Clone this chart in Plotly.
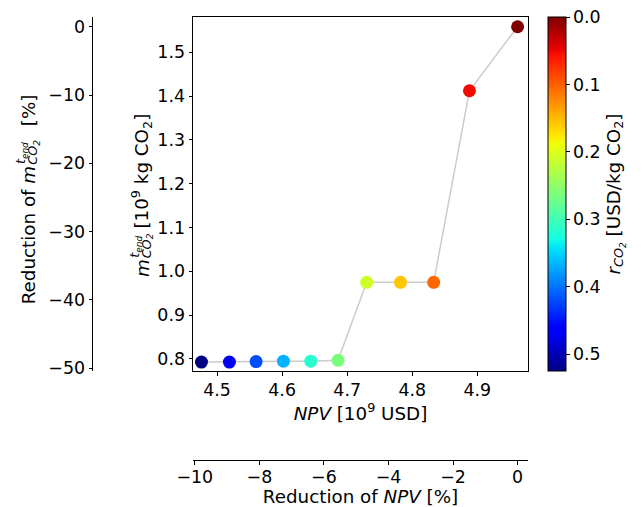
import plotly.graph_objects as go

# Pareto points: net present value vs. final CO2 mass, coloured by CO2 price
npv = [4.476, 4.519, 4.560, 4.602, 4.644, 4.686, 4.730, 4.782, 4.833, 4.888, 4.962]
m_co2 = [0.793, 0.793, 0.794, 0.795, 0.795, 0.797, 0.975, 0.975, 0.975, 1.412, 1.558]
r_co2 = [0.525, 0.4725, 0.42, 0.3675, 0.315, 0.2625, 0.21, 0.1575, 0.105, 0.0525, 0.0]

npv_ticks = [4.5, 4.6, 4.7, 4.8, 4.9]
m_ticks = [0.8, 0.9, 1.0, 1.1, 1.2, 1.3, 1.4, 1.5]
npv_red_ticks = [-10, -8, -6, -4, -2, 0]
m_red_ticks = [0, -10, -20, -30, -40, -50]
r_ticks = [0.0, 0.1, 0.2, 0.3, 0.4, 0.5]

npv_range = [4.463, 4.978]
m_range = [0.7726, 1.5803]

W, H = 644, 507
FONT = "DejaVu Sans"
FS_TICK = 17.4
FS_LABEL = 18.3
FS_SCRIPT = FS_LABEL * 0.7
FS_SCRIPT2 = FS_SCRIPT * 0.7

# relative reductions w.r.t. the unconstrained optimum
npv_ref = max(npv)
m_ref = max(m_co2)
npv_pct = [(v / npv_ref - 1) * 100 for v in npv]
m_pct = [(v / m_ref - 1) * 100 for v in m_co2]
npv_pct_range = [(v / npv_ref - 1) * 100 for v in npv_range]
m_pct_range = [(v / m_ref - 1) * 100 for v in m_range]


def jet(t):
    """matplotlib 'jet' colormap."""
    def interp(pts, x):
        for (x0, y0), (x1, y1) in zip(pts[:-1], pts[1:]):
            if x0 <= x <= x1:
                return y0 + (y1 - y0) * (x - x0) / (x1 - x0) if x1 > x0 else y1
        return pts[-1][1]
    red = [(0, 0), (0.35, 0), (0.66, 1), (0.89, 1), (1, 0.5)]
    green = [(0, 0), (0.125, 0), (0.375, 1), (0.64, 1), (0.91, 0), (1, 0)]
    blue = [(0, 0.5), (0.11, 1), (0.34, 1), (0.65, 0), (1, 0)]
    return "rgb(%d,%d,%d)" % tuple(round(255 * interp(c, t)) for c in (red, green, blue))


n_stops = 64
jet_scale = [[i / n_stops, jet(i / n_stops)] for i in range(n_stops + 1)]

# colour axis runs downward: price 0 at top (dark red), max price at bottom (dark blue)
color_vals = [-r for r in r_co2]

fig = go.Figure()
fig.add_trace(go.Scatter(
    x=npv, y=m_co2, mode="lines",
    line=dict(color="#cccccc", width=1.5),
    hoverinfo="skip", showlegend=False,
))
fig.add_trace(go.Scatter(
    x=npv, y=m_co2, mode="markers",
    marker=dict(
        size=13, color=color_vals, colorscale=jet_scale,
        cmin=-max(r_co2), cmax=0, line=dict(width=0),
        colorbar=dict(
            x=548 / W, xanchor="left", xpad=0,
            y=1 - 17 / H, yanchor="top", ypad=0,
            len=(371 - 17) / H, lenmode="fraction",
            thickness=18, thicknessmode="pixels",
            outlinecolor="black", outlinewidth=1,
            tickvals=[-v for v in r_ticks],
            ticktext=["%.1f" % v for v in r_ticks],
            ticks="outside", ticklen=3.5, tickcolor="black",
            tickfont=dict(family=FONT, size=FS_TICK, color="black"),
            title=dict(
                text="<i>r<sub>CO<sub>2</sub></sub></i> [USD/kg CO<sub>2</sub>]",
                side="right",
                font=dict(family=FONT, size=FS_LABEL, color="black"),
            ),
        ),
    ),
    showlegend=False,
))
# invisible carrier for the reduction axes
fig.add_trace(go.Scatter(
    x=npv_pct, y=m_pct, xaxis="x2", yaxis="y2", mode="markers",
    marker=dict(opacity=0), hoverinfo="skip", showlegend=False,
))

axis_common = dict(
    showgrid=False, zeroline=False, showline=True, linecolor="black", linewidth=1,
    ticks="outside", ticklen=3.5, tickcolor="black", automargin=False,
    tickfont=dict(family=FONT, size=FS_TICK, color="black"),
)

fig.update_layout(
    template="none",
    width=W, height=H, autosize=False,
    margin=dict(l=0, r=0, t=0, b=0, pad=0),
    paper_bgcolor="white", plot_bgcolor="white",
    font=dict(family=FONT, size=FS_TICK, color="black"),
    xaxis=dict(
        domain=[193 / W, 528 / W], range=npv_range, mirror=True,
        tickvals=npv_ticks, tickformat=".1f",
        title=dict(text="<i>NPV</i> [10<sup>9</sup> USD]", standoff=4,
                   font=dict(family=FONT, size=FS_LABEL)),
        **axis_common,
    ),
    yaxis=dict(
        domain=[1 - 371 / H, 1 - 17 / H], range=m_range, mirror=True,
        tickvals=m_ticks, tickformat=".1f",
        **axis_common,
    ),
    xaxis2=dict(
        overlaying="x", anchor="free", position=1 - 460 / H, side="bottom",
        range=npv_pct_range, tickvals=npv_red_ticks, ticklabelstandoff=-2,
        title=dict(text="Reduction of <i>NPV</i> [%]", standoff=1,
                   font=dict(family=FONT, size=FS_LABEL)),
        **axis_common,
    ),
    yaxis2=dict(
        overlaying="y", anchor="free", position=92 / W, side="left",
        range=m_pct_range, tickvals=m_red_ticks,
        **axis_common,
    ),
)

# DejaVu Sans advance widths (em) for the glyphs used in the rotated titles
GLYPH_EM = {
    "R": 0.695, "e": 0.615, "d": 0.635, "u": 0.634, "c": 0.550, "t": 0.392,
    "i": 0.278, "o": 0.612, "n": 0.634, " ": 0.318, "f": 0.352, "m": 0.974,
    "[": 0.390, "]": 0.390, "%": 0.950, "0": 0.636, "1": 0.636, "2": 0.636,
    "9": 0.636, "k": 0.579, "g": 0.635, "C": 0.698, "O": 0.787,
}


def run_len(runs):
    return sum(GLYPH_EM[ch] * size for s, size in runs for ch in s)


def rot_text(text, runs, x_px, y_bottom_px, size):
    """Vertical (bottom-to-top) text piece starting at y_bottom_px."""
    yc = y_bottom_px - run_len(runs) / 2
    fig.add_annotation(
        text=text, textangle=-90, showarrow=False,
        xref="paper", yref="paper", x=x_px / W, y=1 - yc / H,
        xanchor="center", yanchor="middle", borderpad=0, borderwidth=0,
        font=dict(family=FONT, size=size, color="black"),
    )


def rot_label(lead, tail, tail_runs, x_px, y_start, y_tail):
    """Rotated label: lead text + m with stacked t_end / CO2 scripts + tail."""
    lead_runs = [(lead + "m", FS_LABEL)]
    rot_text(lead + "<i>m</i>", lead_runs, x_px, y_start, FS_LABEL)
    y_stack = y_start - run_len(lead_runs) - 1
    rot_text("<i>t<sub>end</sub></i>", [("t", FS_SCRIPT), ("end", FS_SCRIPT2)],
             x_px - 6.5, y_stack, FS_SCRIPT)
    rot_text("<i>CO<sub>2</sub></i>", [("CO", FS_SCRIPT), ("2", FS_SCRIPT2)],
             x_px + 5.5, y_stack, FS_SCRIPT)
    rot_text(tail, tail_runs, x_px, y_tail, FS_LABEL)


# y-axis titles with stacked super-/subscripts
rot_label("", "[10<sup>9</sup> kg CO<sub>2</sub>]",
          [("[10", FS_LABEL), ("9", FS_SCRIPT), (" kg CO", FS_LABEL),
           ("2", FS_SCRIPT), ("]", FS_LABEL)],
          142, 277, 229)
rot_label("Reduction of ", "[%]", [("[%]", FS_LABEL)], 28, 305, 126)

fig.write_html("out.html")
